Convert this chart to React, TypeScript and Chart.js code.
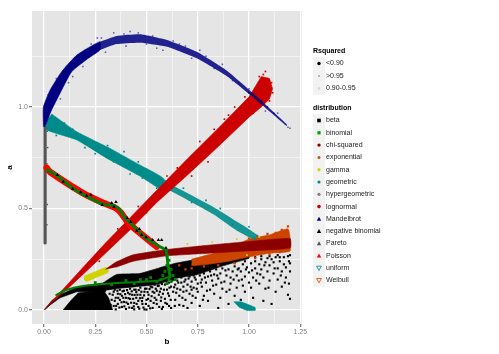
import React, { useEffect, useRef } from "react";
import { Chart, registerables } from "chart.js";

Chart.register(...registerables);

type Pair = [number, number];

const xTickValues = [0, 0.125, 0.25, 0.375, 0.5, 0.625, 0.75, 0.875, 1, 1.125, 1.25];
const yTickValues = [0, 0.25, 0.5, 0.75, 1, 1.25];
const xLabelled = [0, 0.25, 0.5, 0.75, 1, 1.25];
const yLabelled = [0, 0.5, 1];

const rsquaredLabels = ["<0.90", ">0.95", "0.90-0.95"];
const distributionLabels = ["beta", "binomial", "chi-squared", "exponential", "gamma", "geometric", "hypergeometric", "lognormal", "Mandelbrot", "negative binomial", "Pareto", "Poisson", "uniform", "Weibull"];

const mandelbrotDense: Pair[] = [[-0.003, 0.903], [-0.003, 1.0], [0.03, 1.084], [0.086, 1.174], [0.16, 1.256], [0.273, 1.322], [0.273, 1.281], [0.216, 1.24], [0.135, 1.174], [0.078, 1.067], [0.037, 0.985], [0.005, 0.903]];
const mandelbrotLight: Pair[] = [[0.273, 1.322], [0.355, 1.35], [0.468, 1.358], [0.6, 1.33], [0.745, 1.272], [0.891, 1.18], [1.02, 1.068], [1.184, 0.915], [1.184, 0.906], [1.02, 1.048], [0.891, 1.153], [0.745, 1.24], [0.6, 1.297], [0.468, 1.317], [0.355, 1.31], [0.273, 1.281]];
const mandelbrotFringe: Pair[] = [[0.02, 1.06], [0.06, 1.14], [0.05, 1.02], [0.08, 1.04], [0.11, 1.2], [0.14, 1.15], [0.19, 1.2], [0.12, 1.12], [0.2, 1.28], [0.23, 1.31], [0.26, 1.34], [0.28, 1.34], [0.3, 1.27], [0.34, 1.365], [0.39, 1.36], [0.42, 1.372], [0.46, 1.365], [0.5, 1.31], [0.53, 1.35], [0.58, 1.28], [0.63, 1.325], [0.69, 1.3], [0.72, 1.24], [0.79, 1.25], [0.83, 1.19], [0.87, 1.21], [0.95, 1.12], [1.0, 1.09], [1.08, 0.98], [1.14, 0.97], [1.19, 0.9], [1.2, 0.895], [0.4, 1.3], [0.55, 1.29], [0.66, 1.31], [0.76, 1.28], [0.92, 1.13], [1.06, 1.03], [1.12, 0.97]];

const geometricDense: Pair[] = [[0.037, 0.966], [0.16, 0.878], [0.322, 0.796], [0.468, 0.714], [0.58, 0.65], [0.58, 0.59], [0.468, 0.66], [0.306, 0.748], [0.16, 0.838], [0.013, 0.887], [0.01, 0.93]];
const geometricLight: Pair[] = [[0.58, 0.65], [0.615, 0.622], [0.826, 0.508], [0.95, 0.43], [1.04, 0.37], [1.03, 0.345], [0.95, 0.385], [0.826, 0.472], [0.615, 0.588], [0.58, 0.59]];
const geometricLower: Pair[] = [[0.925, 0.04], [0.96, 0.04], [1.03, 0.012], [1.03, -0.002], [0.99, -0.002], [0.95, 0.015]];
const geometricFringe: Pair[] = [[0.06, 0.86], [0.14, 0.89], [0.2, 0.8], [0.31, 0.81], [0.34, 0.73], [0.46, 0.73], [0.48, 0.65], [0.55, 0.6], [0.62, 0.64], [0.68, 0.6], [0.72, 0.53], [0.79, 0.54], [0.86, 0.5], [0.92, 0.42], [1.0, 0.41], [0.1, 0.92], [0.25, 0.77], [0.39, 0.78], [0.42, 0.67]];

const hypergeometric: Pair[] = [[0.005, 0.33], [0.005, 0.5], [0.005, 0.7], [0.006, 0.9]];
const hyperFringe: Pair[] = [[0.016, 0.88], [0.018, 0.8], [0.015, 0.72], [0.016, 0.52], [0.014, 0.42]];

const lognormalShape: Pair[] = [[0, 0], [0.1, 0.11], [0.2, 0.22], [0.3, 0.33], [0.42, 0.455], [0.55, 0.59], [0.7, 0.745], [0.85, 0.895], [1, 1.05], [1.03, 1.1], [1.06, 1.15], [1.1, 1.14], [1.115, 1.09], [1.1, 1.04], [1.06, 1.0], [1, 0.95], [0.85, 0.805], [0.7, 0.665], [0.55, 0.53], [0.42, 0.395], [0.3, 0.28], [0.2, 0.185], [0.1, 0.09]];
const lognormalFringe: Pair[] = [[1.03, 1.0], [1.05, 1.15], [1.06, 1.04], [1.07, 1.16], [1.09, 1.14], [1.11, 1.12], [1.115, 1.07], [1.08, 1.175], [1.1, 1.03], [1.03, 1.09], [0.98, 1.05], [0.9, 0.96], [0.95, 0.92], [0.83, 0.89], [0.76, 0.83], [0.72, 0.66], [0.65, 0.7], [1.02, 0.97], [1.0, 1.07], [1.09, 1.0], [0.93, 1.0], [0.88, 0.94], [0.8, 0.73], [0.6, 0.66], [0.5, 0.48], [0.46, 0.51], [0.36, 0.4], [0.27, 0.24], [1.04, 1.08], [1.07, 1.09], [1.1, 1.11]];

const poisson: Pair[] = [[0.013, 0.7], [0.03, 0.68], [0.19, 0.576], [0.29, 0.527], [0.345, 0.505], [0.375, 0.48], [0.41, 0.43], [0.468, 0.379], [0.55, 0.312]];
const binomialUpper: Pair[] = [[0.015, 0.69], [0.06, 0.665], [0.14, 0.6], [0.2, 0.565], [0.29, 0.52], [0.34, 0.515], [0.37, 0.495], [0.39, 0.46], [0.43, 0.42], [0.49, 0.36], [0.55, 0.32], [0.595, 0.295], [0.605, 0.22], [0.615, 0.165]];
const binomialLower: Pair[] = [[0.615, 0.165], [0.56, 0.145], [0.5, 0.14], [0.355, 0.133], [0.19, 0.118], [0.1, 0.096], [0.06, 0.074]];
const binomialBlob: Pair[] = [[0.6, 0.27], [0.62, 0.2], [0.63, 0.17], [0.61, 0.15], [0.6, 0.22], [0.58, 0.17], [0.55, 0.14], [0.6, 0.13], [0.52, 0.16], [0.5, 0.15], [0.47, 0.15], [0.57, 0.15], [0.62, 0.14], [0.64, 0.15], [0.59, 0.19], [0.44, 0.13], [0.4, 0.145], [0.33, 0.125], [0.25, 0.135], [0.61, 0.245]];
const negativeBinomial: Pair[] = [[0.065, 0.665], [0.094, 0.632], [0.14, 0.596], [0.179, 0.58], [0.208, 0.563], [0.229, 0.568], [0.284, 0.517], [0.33, 0.527], [0.351, 0.532], [0.341, 0.509], [0.406, 0.453], [0.423, 0.433], [0.452, 0.389], [0.465, 0.399], [0.476, 0.369], [0.498, 0.358], [0.53, 0.345], [0.558, 0.345], [0.574, 0.345], [0.595, 0.305]];

const chiShape: Pair[] = [[0.3, 0.2], [0.35, 0.235], [0.435, 0.272], [0.6, 0.298], [0.76, 0.315], [0.92, 0.33], [1.2, 0.352], [1.2, 0.305], [0.92, 0.287], [0.76, 0.277], [0.6, 0.267], [0.435, 0.24], [0.35, 0.21]];
const gamma: Pair[] = [[0.21, 0.156], [0.3, 0.195]];
const gammaFringe: Pair[] = [[0.7, 0.325], [0.82, 0.335], [0.94, 0.35], [1.0, 0.36], [0.99, 0.27], [1.05, 0.36]];
const exponentialShape: Pair[] = [[0.72, 0.25], [0.9, 0.3], [1.0, 0.35], [1.1, 0.37], [1.19, 0.4], [1.2, 0.36], [1.2, 0.29], [1.1, 0.28], [1.0, 0.262], [0.9, 0.24], [0.8, 0.225], [0.72, 0.218]];
const exponentialFringe: Pair[] = [[1.19, 0.412], [1.18, 0.385], [1.16, 0.395], [1.13, 0.38], [1.09, 0.375], [1.04, 0.365], [1.0, 0.355], [1.15, 0.285], [1.1, 0.275], [1.03, 0.255], [0.93, 0.23], [0.85, 0.22], [0.72, 0.205], [0.78, 0.215], [0.66, 0.22], [0.69, 0.2]];

const betaWedge: Pair[] = [[0.093, 0], [0.13, 0.045], [0.167, 0.084], [0.288, 0.1], [0.315, 0.06], [0.335, 0]];
const betaTail: Pair[] = [[0, 0], [0.04, 0.048], [0.078, 0.075], [0.16, 0.112], [0.3, 0.135], [0.3, 0.09], [0.16, 0.09], [0.078, 0.06], [0.03, 0.025], [0.005, 0.002]];
const betaShape: Pair[] = [[0.29, 0.135], [0.355, 0.175], [0.468, 0.18], [0.58, 0.213], [0.64, 0.23], [0.75, 0.25], [0.88, 0.265], [1.0, 0.275], [1.0, 0.255], [0.88, 0.22], [0.75, 0.175], [0.64, 0.155], [0.55, 0.125], [0.45, 0.115], [0.35, 0.105], [0.29, 0.095]];
const betaPoints: Pair[] = [
  [0.32, 0.08], [0.33, 0.05], [0.34, 0.02], [0.34, 0.09], [0.35, 0.06], [0.35, 0.003], [0.36, 0.03], [0.36, 0.08], [0.37, 0.05], [0.37, 0.1], [0.38, 0.015], [0.38, 0.07], [0.39, 0.04], [0.39, 0.095], [0.4, 0.06], [0.4, 0.005], [0.41, 0.085], [0.41, 0.03], [0.42, 0.105], [0.42, 0.055], [0.43, 0.01], [0.43, 0.075], [0.44, 0.035], [0.44, 0.1], [0.45, 0.06], [0.45, 0.088], [0.46, 0.015], [0.46, 0.045], [0.47, 0.075], [0.47, 0.11], [0.48, 0.03], [0.48, 0.06], [0.49, 0.09], [0.49, 0.003], [0.5, 0.05], [0.5, 0.105], [0.51, 0.02], [0.51, 0.075], [0.52, 0.045], [0.52, 0.115], [0.53, 0.09], [0.53, 0.01], [0.54, 0.06], [0.54, 0.125], [0.55, 0.03], [0.55, 0.095], [0.56, 0.075], [0.56, 0.12], [0.57, 0.045], [0.57, 0.105], [0.58, 0.015], [0.58, 0.08], [0.59, 0.125], [0.59, 0.055], [0.6, 0.1], [0.6, 0.03], [0.61, 0.135], [0.61, 0.07],
  [0.62, 0.115], [0.62, 0.01], [0.63, 0.09], [0.63, 0.15], [0.64, 0.05], [0.64, 0.125], [0.65, 0.105], [0.65, 0.145], [0.66, 0.07], [0.66, 0.025], [0.67, 0.135], [0.67, 0.16], [0.68, 0.09], [0.68, 0.115], [0.69, 0.05], [0.69, 0.15], [0.7, 0.125], [0.7, 0.01], [0.71, 0.165], [0.71, 0.08], [0.72, 0.14], [0.72, 0.035], [0.73, 0.11], [0.73, 0.17], [0.74, 0.06], [0.74, 0.15], [0.75, 0.13], [0.75, 0.09], [0.76, 0.17], [0.76, 0.02], [0.77, 0.115], [0.77, 0.15], [0.78, 0.07], [0.78, 0.18], [0.79, 0.135], [0.8, 0.165], [0.8, 0.045], [0.81, 0.1], [0.81, 0.19], [0.82, 0.145], [0.83, 0.08], [0.83, 0.175], [0.84, 0.125], [0.84, 0.2], [0.85, 0.01], [0.85, 0.155], [0.86, 0.06], [0.86, 0.18], [0.87, 0.105], [0.87, 0.205], [0.88, 0.14], [0.89, 0.17], [0.89, 0.09], [0.9, 0.2], [0.9, 0.03], [0.91, 0.13], [0.91, 0.16], [0.92, 0.19], [0.93, 0.07], [0.93, 0.215], [0.94, 0.11], [0.94, 0.17], [0.95, 0.145], [0.95, 0.205], [0.96, 0.19], [0.96, 0.05], [0.97, 0.12], [0.97, 0.225], [0.98, 0.165], [0.98, 0.09], [0.99, 0.21], [1.0, 0.135], [1.0, 0.185], [1.01, 0.23], [1.01, 0.11], [1.02, 0.06], [1.02, 0.16], [1.03, 0.205], [1.03, 0.24], [1.04, 0.18], [1.05, 0.13], [1.05, 0.225], [1.06, 0.25], [1.06, 0.2], [1.07, 0.16], [1.07, 0.045], [1.08, 0.235], [1.08, 0.105], [1.09, 0.19], [1.09, 0.255], [1.1, 0.145], [1.1, 0.22], [1.11, 0.25], [1.11, 0.03], [1.12, 0.18], [1.12, 0.235], [1.13, 0.09], [1.13, 0.26], [1.14, 0.205], [1.14, 0.15], [1.15, 0.24], [1.15, 0.26], [1.16, 0.19], [1.16, 0.115], [1.17, 0.225], [1.17, 0.26], [1.18, 0.16], [1.18, 0.21], [1.19, 0.265], [1.19, 0.075], [1.195, 0.24], [1.195, 0.13], [1.2, 0.27], [1.2, 0.055], [1.2, 0.19], [1.06, 0.265], [0.98, 0.24], [0.93, 0.235], [0.88, 0.225], [1.14, 0.27], [1.1, 0.265], [1.03, 0.26],
];
const betaDensePoints: Pair[] = [
  [0.325, 0.025], [0.335, 0.075], [0.345, 0.045], [0.345, 0.1], [0.352, 0.02], [0.358, 0.095], [0.362, 0.06], [0.368, 0.012], [0.372, 0.078], [0.378, 0.038], [0.383, 0.092], [0.387, 0.06], [0.392, 0.018], [0.396, 0.078], [0.402, 0.037], [0.405, 0.098], [0.412, 0.058], [0.416, 0.012], [0.418, 0.078], [0.425, 0.036], [0.428, 0.092], [0.435, 0.055], [0.438, 0.018], [0.442, 0.074], [0.447, 0.1], [0.452, 0.03], [0.456, 0.075], [0.462, 0.098], [0.465, 0.006], [0.468, 0.058], [0.475, 0.09], [0.478, 0.044], [0.485, 0.012], [0.488, 0.072], [0.493, 0.105], [0.497, 0.03], [0.505, 0.088], [0.508, 0.055], [0.515, 0.103], [0.518, 0.008], [0.525, 0.068], [0.528, 0.112], [0.535, 0.035], [0.538, 0.085], [0.545, 0.105], [0.548, 0.05], [0.555, 0.118], [0.562, 0.015], [0.565, 0.09], [0.572, 0.062], [0.575, 0.128], [0.585, 0.1], [0.592, 0.035], [0.598, 0.14], [0.605, 0.082], [0.612, 0.11], [0.618, 0.05], [0.625, 0.145], [0.635, 0.112], [0.638, 0.02], [0.645, 0.085], [0.655, 0.135], [0.665, 0.1], [0.675, 0.06], [0.685, 0.14], [0.695, 0.095], [0.705, 0.155], [0.715, 0.115], [0.725, 0.07], [0.735, 0.16], [0.745, 0.105], [0.765, 0.135], [0.775, 0.05], [0.785, 0.16], [0.795, 0.095], [0.815, 0.17], [0.825, 0.12], [0.845, 0.17], [0.865, 0.135], [0.885, 0.195], [0.905, 0.1], [0.925, 0.15], [0.945, 0.2], [0.965, 0.15], [0.985, 0.2], [1.015, 0.195], [1.035, 0.145], [1.055, 0.175], [1.075, 0.22], [1.095, 0.11], [1.125, 0.205], [1.155, 0.17], [1.175, 0.135], [1.2, 0.23], [0.575, 0.005], [0.61, 0.02], [0.68, 0.02], [0.72, 0.1], [0.5, 0.002], [0.44, 0.003],
];

const toXY = (pts: Pair[]) => pts.map(([x, y]) => ({ x, y }));

const shape = (data: Pair[], color: string, extra: object = {}) => ({
  data: toXY(data),
  showLine: true,
  pointRadius: 0,
  fill: "shape",
  borderColor: color,
  backgroundColor: color,
  borderWidth: 0.6,
  borderJoinStyle: "round",
  tension: 0.15,
  ...extra,
});

const stroke = (data: Pair[], color: string, width: number, extra: object = {}) => ({
  data: toXY(data),
  showLine: true,
  pointRadius: 0,
  borderColor: color,
  borderCapStyle: "round",
  borderJoinStyle: "round",
  borderWidth: width,
  tension: 0.15,
  ...extra,
});

const dots = (data: Pair[], color: string, radius: number, style = "rect") => ({
  data: toXY(data),
  showLine: false,
  pointRadius: radius,
  pointStyle: style,
  pointBorderWidth: 0,
  pointBackgroundColor: color,
  backgroundColor: color,
});

const NAVY = "#000080";
const TEAL = "#008b8b";
const GREY = "#555555";
const RED = "#cc0000";
const DARKRED = "#8b0000";
const ORANGE = "#cc4400";
const YELLOW = "#d2d200";
const GREEN = "#008000";
const BRIGHT = "#ff0000";

const legendKeys = [
  { s: "square", c: "#000000", r: 1.8 }, { s: "square", c: "#00a000", r: 1.6 }, { s: "circle", c: DARKRED, r: 1.7 }, { s: "circle", c: "#a5660f", r: 1.5 },
  { s: "circle", c: YELLOW, r: 1.6 }, { s: "circle", c: TEAL, r: 1.6 }, { s: "circle", c: "#7f7f7f", r: 1.6 }, { s: "circle", c: RED, r: 1.8 },
  { s: "tri", c: NAVY, r: 2.2 }, { s: "tri", c: "#000000", r: 2.2 }, { s: "tri", c: "#555555", r: 2.2 }, { s: "tri", c: BRIGHT, r: 2.2 },
  { s: "down", c: TEAL, r: 2.4 }, { s: "down", c: ORANGE, r: 2.4 },
];
const rsquaredKeys = [
  { c: "rgba(0,0,0,1)", r: 1.7 }, { c: "rgba(0,0,0,0.55)", r: 0.8 }, { c: "rgba(0,0,0,0.12)", r: 1.2 },
];

const panelAndLegend = {
  id: "panelAndLegend",
  beforeDraw(chart: any) {
    const { ctx, chartArea: a } = chart;
    ctx.save();
    ctx.fillStyle = "#e5e5e5";
    ctx.fillRect(a.left, a.top, a.right - a.left, a.bottom - a.top);
    ctx.restore();
  },
  afterDraw(chart: any) {
    const ctx = chart.ctx;
    const keyX = 313;
    const keyS = 12;
    const labelX = 326;
    const key = (cy: number) => {
      ctx.fillStyle = "#f2f2f2";
      ctx.fillRect(keyX, cy - 6.25, keyS, 12.5);
    };
    const label = (t: string, cy: number) => {
      ctx.fillStyle = "#1a1a1a";
      ctx.font = "7px 'Liberation Sans'";
      ctx.textBaseline = "middle";
      ctx.fillText(t, labelX, cy);
    };
    ctx.save();
    ctx.font = "bold 7px 'Liberation Sans'";
    ctx.fillStyle = "#000";
    ctx.textBaseline = "middle";
    ctx.fillText("Rsquared", keyX, 51);
    rsquaredLabels.forEach((t, i) => {
      const cy = 63.5 + i * 12.5;
      key(cy);
      ctx.fillStyle = rsquaredKeys[i].c;
      ctx.beginPath();
      ctx.arc(keyX + 6, cy, rsquaredKeys[i].r, 0, Math.PI * 2);
      ctx.fill();
      label(t, cy);
    });
    ctx.font = "bold 7px 'Liberation Sans'";
    ctx.fillStyle = "#000";
    ctx.fillText("distribution", keyX, 108);
    distributionLabels.forEach((t, i) => {
      const cy = 120.5 + i * 12.3;
      key(cy);
      const k = legendKeys[i];
      const cx = keyX + 6;
      ctx.fillStyle = k.c;
      ctx.strokeStyle = k.c;
      ctx.lineWidth = 0.8;
      ctx.beginPath();
      if (k.s === "square") {
        ctx.fillRect(cx - k.r, cy - k.r, k.r * 2, k.r * 2);
      } else if (k.s === "circle") {
        ctx.arc(cx, cy, k.r, 0, Math.PI * 2);
        ctx.fill();
      } else if (k.s === "tri") {
        ctx.moveTo(cx, cy - k.r);
        ctx.lineTo(cx + k.r, cy + k.r * 0.8);
        ctx.lineTo(cx - k.r, cy + k.r * 0.8);
        ctx.closePath();
        ctx.fill();
      } else {
        ctx.moveTo(cx, cy + k.r);
        ctx.lineTo(cx + k.r, cy - k.r * 0.8);
        ctx.lineTo(cx - k.r, cy - k.r * 0.8);
        ctx.closePath();
        ctx.stroke();
      }
      label(t, cy);
    });
    ctx.restore();
  },
};

export default function App() {
  const ref = useRef<HTMLCanvasElement>(null);
  useEffect(() => {
    // listed bottom to top; a lower "order" is drawn later in Chart.js
    const layers: any[] = [
      shape(betaWedge, "#000000", { tension: 0 }),
      shape(betaTail, "#000000", { tension: 0 }),
      shape(betaShape, "#000000"),
      dots(betaPoints, "#000000", 1.5),
      dots(betaDensePoints, "#000000", 1.5),
      shape(exponentialShape, ORANGE),
      dots(exponentialFringe, ORANGE, 1.6),
      dots(gammaFringe, YELLOW, 1.2),
      stroke(gamma, YELLOW, 6.5),
      shape(chiShape, DARKRED),
      shape(geometricLight, "rgba(0,139,139,0.9)", { borderWidth: 0 }),
      shape(geometricDense, TEAL),
      dots(geometricFringe, TEAL, 1.2),
      shape(geometricLower, TEAL),
      stroke(hypergeometric, GREY, 3.2, { tension: 0 }),
      dots(hyperFringe, GREY, 1),
      shape(lognormalShape, RED, { tension: 0 }),
      dots(lognormalFringe, RED, 1.2),
      shape(mandelbrotDense, NAVY),
      shape(mandelbrotLight, "rgba(0,0,128,0.85)", { borderWidth: 0 }),
      dots(mandelbrotFringe, "rgba(0,0,128,0.6)", 1.1),
      stroke(poisson, BRIGHT, 6.5),
      stroke(binomialUpper, GREEN, 3),
      stroke(binomialLower, GREEN, 2),
      dots(binomialBlob, GREEN, 2),
      dots(negativeBinomial, "#000000", 2, "triangle"),
    ];
    layers.forEach((l, i) => (l.order = layers.length - i));
    const chart = new Chart(ref.current as HTMLCanvasElement, {
      type: "scatter",
      data: { datasets: layers },
      plugins: [panelAndLegend],
      options: {
        animation: false,
        responsive: false,
        events: [],
        layout: { padding: { left: 5, right: 197, top: 11, bottom: 7 } },
        plugins: { legend: { display: false }, tooltip: { enabled: false } },
        scales: {
          x: {
            type: "linear",
            min: -0.0585,
            max: 1.2585,
            afterFit: (s: any) => { s.height = 23; },
            afterBuildTicks: (s: any) => { s.ticks = xTickValues.map((value) => ({ value })); },
            border: { display: false },
            grid: {
              color: "#ffffff",
              lineWidth: (c: any) => (xLabelled.includes(c.tick?.value) ? 1.3 : 0.5),
              tickColor: (c: any) => (xLabelled.includes(c.tick?.value) ? "#7f7f7f" : "rgba(0,0,0,0)"),
              tickLength: 3,
            },
            ticks: {
              autoSkip: false,
              maxRotation: 0,
              padding: 1,
              color: "#7f7f7f",
              font: { family: "'Liberation Sans'", size: 7 },
              callback: (v: any) => (xLabelled.includes(v) ? Number(v).toFixed(2) : ""),
            },
            title: { display: true, text: "b", color: "#000", padding: { top: 1, bottom: 0 }, font: { family: "'Liberation Sans'", size: 8, weight: "bold" } },
          },
          y: {
            type: "linear",
            min: -0.069,
            max: 1.473,
            afterFit: (s: any) => { s.width = 27; },
            afterBuildTicks: (s: any) => { s.ticks = yTickValues.map((value) => ({ value })); },
            border: { display: false },
            grid: {
              color: "#ffffff",
              lineWidth: (c: any) => (yLabelled.includes(c.tick?.value) ? 1.3 : 0.5),
              tickColor: (c: any) => (yLabelled.includes(c.tick?.value) ? "#7f7f7f" : "rgba(0,0,0,0)"),
              tickLength: 3,
            },
            ticks: {
              autoSkip: false,
              padding: 1,
              color: "#7f7f7f",
              font: { family: "'Liberation Sans'", size: 7 },
              callback: (v: any) => (yLabelled.includes(v) ? Number(v).toFixed(1) : ""),
            },
            title: { display: true, text: "a", color: "#000", padding: { top: 0, bottom: 0 }, font: { family: "'Liberation Sans'", size: 8, weight: "bold" } },
          },
        },
      } as any,
    });
    return () => chart.destroy();
  }, []);
  return (
    <div style={{ position: "fixed", left: 0, top: 0, width: 499, height: 354, background: "#fff" }}>
      <canvas ref={ref} width={499} height={354} style={{ display: "block", filter: "blur(0.45px)" }} />
    </div>
  );
}
